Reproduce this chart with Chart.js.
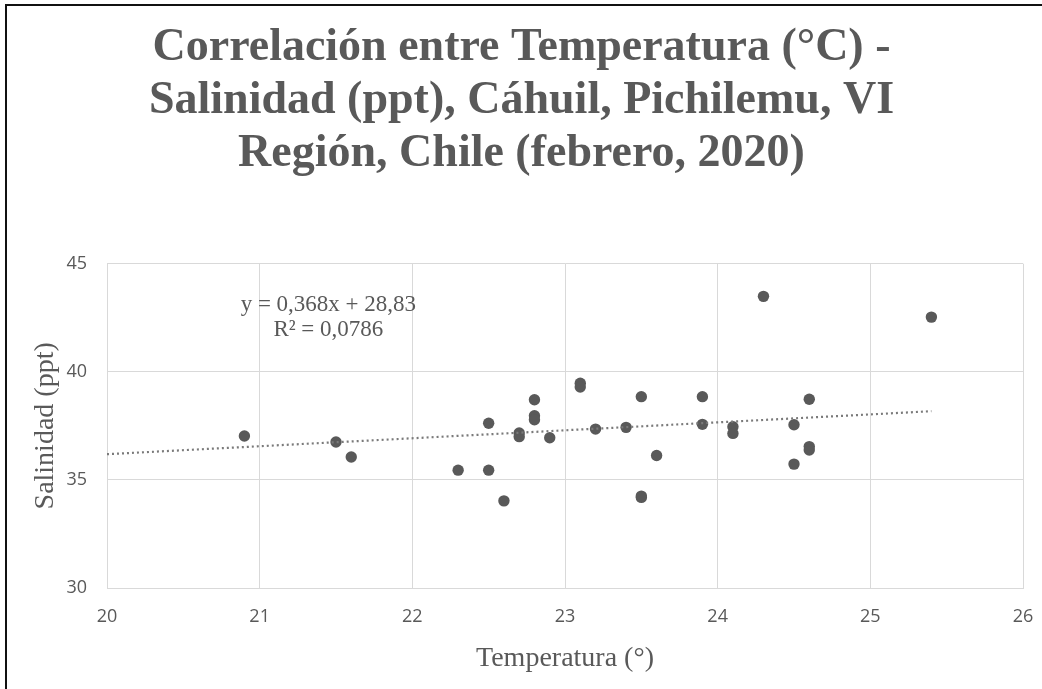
<!DOCTYPE html>
<html>
<head>
<meta charset="utf-8">
<script src="https://cdn.jsdelivr.net/npm/chart.js@4.4.0/dist/chart.umd.min.js"></script>
<style>
  html, body { margin: 0; padding: 0; background: #fff; }
  #wrap { position: relative; width: 1042px; height: 689px; }
  #frame { position: absolute; left: 5px; top: 4px; right: 0; bottom: 0;
           border-left: 2px solid #111; border-top: 2px solid #111; pointer-events: none; }
</style>
</head>
<body>
<div id="wrap">
  <canvas id="salinityChart" width="1042" height="689"></canvas>
  <div id="frame"></div>
</div>
<script>
  // temperatura (°C) y salinidad (ppt) de cada muestra
  const temperatura = [
    20.9, 21.5, 21.6, 22.3, 22.5, 22.5, 22.6, 22.7, 22.7, 22.8,
    22.8, 22.8, 22.9, 23.1, 23.1, 23.2, 23.4, 23.5, 23.5, 23.5,
    23.6, 23.9, 23.9, 24.1, 24.1, 24.3, 24.5, 24.5, 24.6, 24.6,
    24.6, 25.4,
  ];
  const salinidad = [
    37.03, 36.75, 36.06, 35.45, 35.45, 37.62, 34.03, 37.17, 37.0, 38.71,
    37.97, 37.78, 36.95, 39.47, 39.3, 37.35, 37.43, 38.85, 34.19, 34.25,
    36.13, 38.85, 37.57, 37.46, 37.15, 43.49, 37.55, 35.73, 38.73, 36.54,
    36.38, 42.53,
  ];

  // linear trendline as reported in the chart
  const pendiente = 0.368;
  const intercepto = 28.83;
  const r2 = 0.0786;
  const tendenciaX = [20, 25.4];

  const xTicks = [20, 21, 22, 23, 24, 25, 26];
  const yTicks = [30, 35, 40, 45];

  const titulo = [
    "Correlación entre Temperatura (°C) -",
    "Salinidad (ppt), Cáhuil, Pichilemu, VI",
    "Región, Chile (febrero, 2020)",
  ];

  const gray = "#595959";
  const gridColor = "#d9d9d9";
  const serif = "'Liberation Serif', 'Times New Roman', serif";
  const sans = "'Open Sans', 'Liberation Sans', sans-serif";

  const puntos = temperatura.map((t, i) => ({ x: t, y: salinidad[i] }));
  const tendencia = tendenciaX.map((x) => ({ x: x, y: pendiente * x + intercepto }));

  const fmt = (v, d) => v.toFixed(d).replace(".", ",");

  // equation + R² text, anchored in data units
  const ecuacionPlugin = {
    id: "ecuacion",
    afterDatasetsDraw(chart) {
      const { ctx, scales } = chart;
      const cx = scales.x.getPixelForValue(21.45);
      const cy = scales.y.getPixelForValue(43.1);
      ctx.save();
      ctx.fillStyle = gray;
      ctx.font = "23px " + serif;
      ctx.textAlign = "center";
      ctx.textBaseline = "middle";
      ctx.fillText("y = " + fmt(pendiente, 3) + "x + " + fmt(intercepto, 2), cx, cy);
      ctx.fillText("R² = " + fmt(r2, 4), cx, cy + 25);
      ctx.restore();
    },
  };

  const bgPlugin = {
    id: "bg",
    beforeDraw(chart) {
      const ctx = chart.ctx;
      ctx.save();
      ctx.fillStyle = "#fff";
      ctx.fillRect(0, 0, chart.width, chart.height);
      ctx.restore();
    },
  };

  new Chart(document.getElementById("salinityChart"), {
    type: "scatter",
    data: {
      datasets: [
        {
          type: "line",
          label: "Lineal",
          data: tendencia,
          borderColor: "#7a7a7a",
          borderWidth: 2.2,
          borderDash: [2, 3],
          pointRadius: 0,
          fill: false,
          order: 0,
        },
        {
          label: "Salinidad",
          data: puntos,
          backgroundColor: gray,
          borderWidth: 0,
          pointRadius: 5.7,
          order: 1,
        },
      ],
    },
    options: {
      responsive: false,
      animation: false,
      layout: { padding: { left: 20, right: 19, top: 0, bottom: 8 } },
      plugins: {
        legend: { display: false },
        tooltip: { enabled: false },
        title: {
          display: true,
          text: titulo,
          color: gray,
          font: { family: serif, size: 46, weight: "bold", lineHeight: 1.15 },
          padding: { top: 22, bottom: 83 },
        },
      },
      scales: {
        x: {
          type: "linear",
          min: 20,
          max: 26,
          afterBuildTicks: (scale) => { scale.ticks = xTicks.map((v) => ({ value: v })); },
          afterFit: (scale) => {
            scale.height = 93;
            scale.paddingLeft = 0;
            scale.paddingRight = 0;
          },
          grid: { color: gridColor, drawTicks: false },
          border: { color: gridColor },
          ticks: { color: gray, padding: 18, font: { family: sans, size: 18 } },
          title: {
            display: true,
            text: "Temperatura (°)",
            color: gray,
            font: { family: serif, size: 28, lineHeight: 1.2 },
            padding: { top: 0, bottom: 6 },
          },
        },
        y: {
          type: "linear",
          min: 30,
          max: 45,
          afterBuildTicks: (scale) => { scale.ticks = yTicks.map((v) => ({ value: v })); },
          afterFit: (scale) => { scale.width = 87; },
          grid: { color: gridColor, drawTicks: false },
          border: { color: gridColor },
          ticks: { color: gray, padding: 20, font: { family: sans, size: 18 } },
          title: {
            display: true,
            text: "Salinidad (ppt)",
            color: gray,
            font: { family: serif, size: 28, lineHeight: 1.2 },
            padding: { top: 9, bottom: 0 },
          },
        },
      },
    },
    plugins: [bgPlugin, ecuacionPlugin],
  });
</script>
</body>
</html>
